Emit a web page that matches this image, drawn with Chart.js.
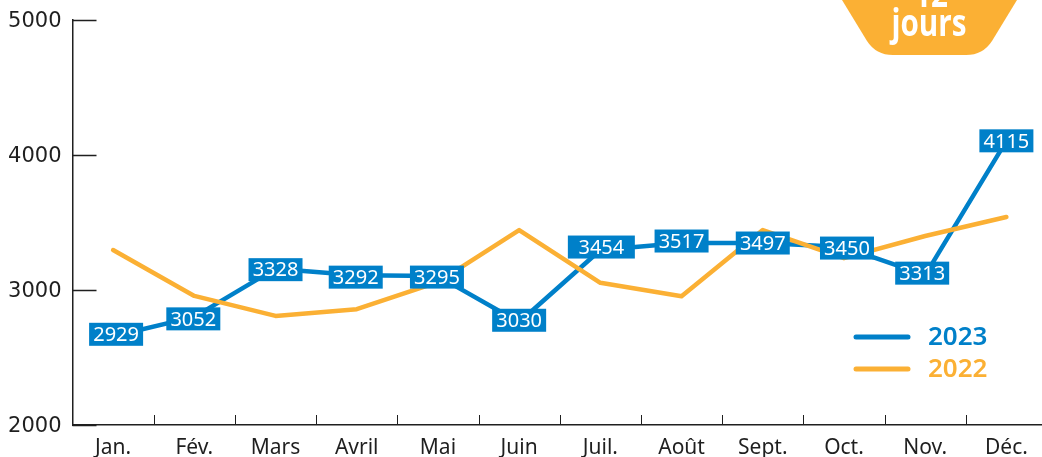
<!DOCTYPE html>
<html lang="fr">
<head>
<meta charset="utf-8">
<title>Jours</title>
<script src="https://cdn.jsdelivr.net/npm/chart.js@4"></script>
<style>
    html, body { margin: 0; padding: 0; background: #fff; }
    #wrap { position: relative; width: 1042px; height: 457px; overflow: hidden; }
    #chart { position: absolute; left: 0; top: 0; }
    #badge { position: absolute; left: 0; top: 0; }
</style>
</head>
<body>
<div id="wrap">
    <canvas id="chart" width="1047" height="457"></canvas>
    <svg id="badge" width="1042" height="60" viewBox="0 0 1042 60">
        <path d="M842 0 L1017 0 L992 41 Q983 55 966 55 L893 55 Q876 55 867 41 Z" fill="#fbb034"/>
        <text x="0" y="0" transform="translate(931 7) scale(0.78 1)" text-anchor="middle" fill="#fff" font-family="Open Sans" font-weight="700" font-size="38">12</text>
        <text x="0" y="0" transform="translate(929 36) scale(0.78 1)" text-anchor="middle" fill="#fff" font-family="Open Sans" font-weight="700" font-size="38">jours</text>
    </svg>
</div>
<script>
const months = ["Jan.", "Fév.", "Mars", "Avril", "Mai", "Juin", "Juil.", "Août", "Sept.", "Oct.", "Nov.", "Déc."];
const values2023 = [2657, 2801, 3158, 3110, 3103, 2761, 3296, 3348, 3348, 3318, 3110, 4105];
const values2022 = [3296, 2956, 2808, 2858, 3058, 3444, 3053, 2954, 3444, 3236, 3400, 3541];
const labels2023 = ["2929", "3052", "3328", "3292", "3295", "3030", "3454", "3517", "3497", "3450", "3313", "4115"];

const BLUE = "#0080c9";
const ORANGE = "#fbb034";
const INK = "#1f1f1f";
const FONT = '"Noto Sans", sans-serif';

// the boxes do not sit exactly on the points in the original
const labelNudge = [[3, -2], [-1, 2], [0, 1], [-1, 2], [-1, 1], [0, -2], [1, -3], [0, -2], [0, 0], [3, 1], [-3, -2], [0, 0]];

const frameTicks = {
    id: "frameTicks",
    afterDraw(chart) {
        const { ctx, scales: { x, y } } = chart;
        ctx.save();
        ctx.strokeStyle = INK;
        ctx.lineWidth = 1.5;
        ctx.beginPath();
        y.ticks.forEach((t) => {
            const py = Math.round(y.getPixelForValue(t.value)) + 0.5;
            ctx.moveTo(x.left, py);
            ctx.lineTo(x.left + 24, py);
        });
        ctx.stroke();
        ctx.lineWidth = 1;
        ctx.beginPath();
        for (let i = 1; i < months.length; i++) {
            const px = Math.round((x.getPixelForValue(i - 1) + x.getPixelForValue(i)) / 2) + 0.5;
            ctx.moveTo(px, y.bottom);
            ctx.lineTo(px, y.bottom - 10);
        }
        ctx.stroke();
        ctx.restore();
    },
};

const valueBoxes = {
    id: "valueBoxes",
    afterDatasetsDraw(chart) {
        const { ctx } = chart;
        const points = chart.getDatasetMeta(1).data;
        ctx.save();
        ctx.font = `20px ${FONT}`;
        ctx.textAlign = "center";
        ctx.textBaseline = "middle";
        points.forEach((p, i) => {
            const text = labels2023[i];
            const w = text === "3454" ? 67 : 54;
            const h = 23;
            const cx = p.x + labelNudge[i][0];
            const cy = p.y + labelNudge[i][1];
            ctx.fillStyle = BLUE;
            ctx.fillRect(cx - w / 2, cy - h / 2, w, h);
            ctx.fillStyle = "#fff";
            ctx.fillText(text, cx, cy + 1);
        });
        ctx.restore();
    },
};

const keyLegend = {
    id: "keyLegend",
    afterDraw(chart) {
        const { ctx } = chart;
        const rows = [["2023", BLUE, 337], ["2022", ORANGE, 369]];
        ctx.save();
        ctx.lineWidth = 5;
        ctx.lineCap = "round";
        ctx.font = `600 26px ${FONT}`;
        ctx.textAlign = "left";
        ctx.textBaseline = "middle";
        rows.forEach(([name, color, y]) => {
            ctx.strokeStyle = color;
            ctx.beginPath();
            ctx.moveTo(856, y);
            ctx.lineTo(908, y);
            ctx.stroke();
            ctx.fillStyle = color;
            ctx.fillText(name, 928, y + 1);
        });
        ctx.restore();
    },
};

new Chart(document.getElementById("chart").getContext("2d"), {
    type: "line",
    data: {
        labels: months,
        datasets: [
            {
                label: "2022",
                data: values2022,
                borderColor: ORANGE,
                borderWidth: 4.5,
                borderJoinStyle: "round",
                borderCapStyle: "round",
                pointRadius: 0,
                tension: 0,
            },
            {
                label: "2023",
                data: values2023,
                borderColor: BLUE,
                borderWidth: 4.5,
                borderJoinStyle: "round",
                borderCapStyle: "round",
                pointRadius: 0,
                tension: 0,
            },
        ],
    },
    options: {
        responsive: false,
        animation: false,
        layout: { padding: { top: 20, right: 0, left: 0, bottom: 0 } },
        plugins: {
            legend: { display: false },
            tooltip: { enabled: false },
        },
        scales: {
            x: {
                offset: true,
                grid: { display: false },
                border: { color: INK, width: 1.5 },
                ticks: {
                    color: INK,
                    font: { family: FONT, size: 21 },
                    padding: 2,
                    maxRotation: 0,
                    autoSkip: false,
                },
                afterFit(scale) {
                    scale.height = 32;
                    scale.paddingLeft = 0;
                    scale.paddingRight = 0;
                },
            },
            y: {
                min: 2000,
                max: 5000,
                grid: { display: false, drawTicks: false },
                border: { color: INK, width: 1.5 },
                ticks: {
                    stepSize: 1000,
                    color: INK,
                    font: { family: '"DejaVu Sans", sans-serif', size: 21 },
                    padding: 11,
                    labelOffset: 2,
                    callback: (value) => String(value),
                },
                afterFit(scale) {
                    scale.width = 72.5;
                    scale.paddingTop = 0;
                    scale.paddingBottom = 0;
                },
            },
        },
    },
    plugins: [frameTicks, valueBoxes, keyLegend],
});
</script>
</body>
</html>
